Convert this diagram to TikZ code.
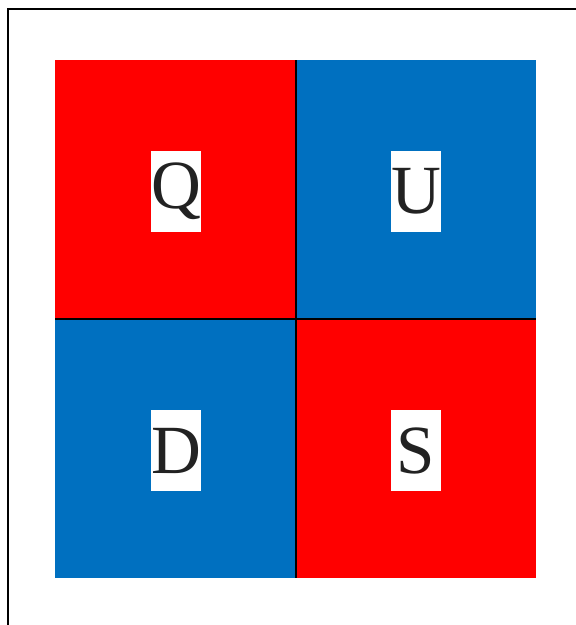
\documentclass[tikz,border=0pt]{standalone}
\usepackage{fontspec}
\setmainfont{Liberation Serif}
\definecolor{qred}{HTML}{FF0000}
\definecolor{qblue}{HTML}{0070C0}
\definecolor{ink}{HTML}{222222}
\begin{document}
\begin{tikzpicture}[x=1pt,y=-1pt,
  quad/.style={draw=none,minimum width=240pt,minimum height=258pt,inner sep=0pt,outer sep=0pt},
  lab/.style={fill=white,minimum width=50pt,minimum height=81pt,inner sep=0pt,text=ink,font=\fontsize{69}{69}\selectfont}]
\useasboundingbox (0,0) rectangle (576,625);
\draw[line width=2pt] (8,625) -- (8,9) -- (576,9);
\node[quad,fill=qred] (q) at (175,189) {};
\node[quad,fill=qblue] (u) at (416,189) {};
\node[quad,fill=qblue] (d) at (175,449) {};
\node[quad,fill=qred] (s) at (416,449) {};
\draw[line width=1.6pt] (q.north east) ++(1,0) coordinate (vt) -- (vt |- d.south east);
\draw[line width=1.6pt] (q.south west) ++(0,1) coordinate (hl) -- (hl -| s.east);
\node[lab] (lq) at (176,191.5) {Q};
\node[lab] (lu) at (416,191.5) {U};
\node[lab] (ld) at (176,450.5) {D};
\node[lab] (ls) at (416,450.5) {S};
\end{tikzpicture}
\end{document}
